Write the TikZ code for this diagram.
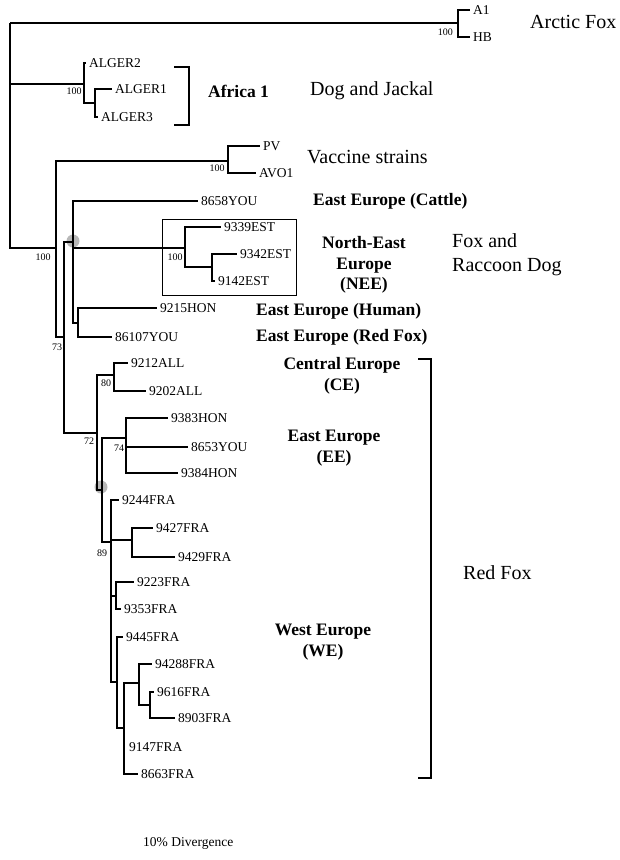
\documentclass[tikz,border=0pt]{standalone}
\usepackage{fontspec}
\setmainfont{Liberation Serif}
\newcommand\LeafSz{\fontsize{13.5}{16}\selectfont}
\newcommand\BootSz{\fontsize{10}{12}\selectfont}
\newcommand\GrpSz{\fontsize{17.5}{20.5}\selectfont\bfseries}
\newcommand\HostSz{\fontsize{20}{24}\selectfont}
\begin{document}
\begin{tikzpicture}[x=1pt,y=-1pt,
  br/.style={line width=1.7pt,line join=miter},
  leaflab/.style={anchor=west,inner sep=0pt,xshift=3pt,font=\LeafSz},
  boot/.style={inner sep=0pt,font=\BootSz},
  grp/.style={inner sep=0pt,align=center,font=\GrpSz},
  host/.style={inner sep=0pt,align=left,font=\HostSz},
  brk/.style={line width=1.3pt},
  hl/.style={fill=black!28,draw=none}]
\useasboundingbox (0,0) rectangle (620,860);

% highlighted nodes
\fill[hl] (73,241) circle (6.5pt);
\fill[hl] (101,487) circle (6.5pt);

% internal nodes
\coordinate (R)  at (10,23);
\coordinate (AN) at (458,23);
\coordinate (AF) at (84,84);
\coordinate (AS) at (95,103);
\coordinate (NA) at (56,248);
\coordinate (V)  at (228,161);
\coordinate (NB) at (64,337);
\coordinate (NC) at (73,242);
\coordinate (N)  at (185,248);
\coordinate (NS) at (212,267);
\coordinate (HR) at (78,323);
\coordinate (ND) at (97,433);
\coordinate (CE) at (114,375);
\coordinate (NE) at (102,490);
\coordinate (EE) at (126,438);
\coordinate (NF) at (111,542);
\coordinate (F1) at (132,540);
\coordinate (F2) at (116,596);
\coordinate (G)  at (117,682);
\coordinate (H)  at (124,728);
\coordinate (I)  at (139,683);
\coordinate (J)  at (150,705);

% leaf tips
\coordinate (tA1) at (470,10);
\coordinate (tHB) at (470,37);
\coordinate (tAL2) at (86,63);
\coordinate (tAL1) at (112,89);
\coordinate (tAL3) at (98,117);
\coordinate (tPV) at (260,146);
\coordinate (tAVO) at (256,173);
\coordinate (t8658) at (198,201);
\coordinate (t9339) at (221,227);
\coordinate (t9342) at (237,254);
\coordinate (t9142) at (215,281);
\coordinate (t9215) at (157,308);
\coordinate (t86107) at (112,337);
\coordinate (t9212) at (128,363);
\coordinate (t9202) at (146,391);
\coordinate (t9383) at (168,418);
\coordinate (t8653) at (188,447);
\coordinate (t9384) at (178,473);
\coordinate (t9244) at (119,500);
\coordinate (t9427) at (153,528);
\coordinate (t9429) at (175,557);
\coordinate (t9223) at (134,582);
\coordinate (t9353) at (121,609);
\coordinate (t9445) at (123,637);
\coordinate (t94288) at (152,664);
\coordinate (t9616) at (154,692);
\coordinate (t8903) at (175,718);
\coordinate (t9147) at (124,747);
\coordinate (t8663) at (138,774);

% branches
\draw[br] (R) |- (AN);
\draw[br] (R) |- (AF);
\draw[br] (R) |- (NA);
\draw[br] (AN) |- (tA1);
\draw[br] (AN) |- (tHB);
\draw[br] (AF) |- (tAL2);
\draw[br] (AF) |- (AS);
\draw[br] (AS) |- (tAL1);
\draw[br] (AS) |- (tAL3);
\draw[br] (NA) |- (V);
\draw[br] (NA) |- (NB);
\draw[br] (V) |- (tPV);
\draw[br] (V) |- (tAVO);
\draw[br] (NB) |- (NC);
\draw[br] (NB) |- (ND);
\draw[br] (NC) |- (t8658);
\draw[br] (NC) |- (N);
\draw[br] (NC) |- (HR);
\draw[br] (N) |- (t9339);
\draw[br] (N) |- (NS);
\draw[br] (NS) |- (t9342);
\draw[br] (NS) |- (t9142);
\draw[br] (HR) |- (t9215);
\draw[br] (HR) |- (t86107);
\draw[br] (ND) |- (CE);
\draw[br] (ND) |- (NE);
\draw[br] (CE) |- (t9212);
\draw[br] (CE) |- (t9202);
\draw[br] (NE) |- (EE);
\draw[br] (NE) |- (NF);
\draw[br] (EE) |- (t9383);
\draw[br] (EE) |- (t8653);
\draw[br] (EE) |- (t9384);
\draw[br] (NF) |- (t9244);
\draw[br] (NF) |- (F1);
\draw[br] (NF) |- (F2);
\draw[br] (NF) |- (G);
\draw[br] (F1) |- (t9427);
\draw[br] (F1) |- (t9429);
\draw[br] (F2) |- (t9223);
\draw[br] (F2) |- (t9353);
\draw[br] (G) |- (t9445);
\draw[br] (G) |- (H);
\draw[br] (H) |- (I);
\draw[br] (H) |- (t9147);
\draw[br] (H) |- (t8663);
\draw[br] (I) |- (t94288);
\draw[br] (I) |- (J);
\draw[br] (J) |- (t9616);
\draw[br] (J) |- (t8903);

% leaf labels
\node[leaflab] (lA1) at (tA1) {A1};
\node[leaflab] (lHB) at (tHB) {HB};
\node[leaflab] (lAL2) at (tAL2) {ALGER2};
\node[leaflab] (lAL1) at (tAL1) {ALGER1};
\node[leaflab] (lAL3) at (tAL3) {ALGER3};
\node[leaflab] (lPV) at (tPV) {PV};
\node[leaflab] (lAVO) at (tAVO) {AVO1};
\node[leaflab] (l8658) at (t8658) {8658YOU};
\node[leaflab] (l9339) at (t9339) {9339EST};
\node[leaflab] (l9342) at (t9342) {9342EST};
\node[leaflab] (l9142) at (t9142) {9142EST};
\node[leaflab] (l9215) at (t9215) {9215HON};
\node[leaflab] (l86107) at (t86107) {86107YOU};
\node[leaflab] (l9212) at (t9212) {9212ALL};
\node[leaflab] (l9202) at (t9202) {9202ALL};
\node[leaflab] (l9383) at (t9383) {9383HON};
\node[leaflab] (l8653) at (t8653) {8653YOU};
\node[leaflab] (l9384) at (t9384) {9384HON};
\node[leaflab] (l9244) at (t9244) {9244FRA};
\node[leaflab] (l9427) at (t9427) {9427FRA};
\node[leaflab] (l9429) at (t9429) {9429FRA};
\node[leaflab] (l9223) at (t9223) {9223FRA};
\node[leaflab] (l9353) at (t9353) {9353FRA};
\node[leaflab] (l9445) at (t9445) {9445FRA};
\node[leaflab] (l94288) at (t94288) {94288FRA};
\node[leaflab] (l9616) at (t9616) {9616FRA};
\node[leaflab] (l8903) at (t8903) {8903FRA};
\node[leaflab,xshift=2pt] (l9147) at (t9147) {9147FRA};
\node[leaflab] (l8663) at (t8663) {8663FRA};

% bootstrap values
\node[boot,anchor=east] (bAN) at (453,32) {100};
\node[boot] (bAF) at (74,91) {100};
\node[boot] (bV) at (217,168) {100};
\node[boot] (bR) at (43,257) {100};
\node[boot] (bN) at (175,257) {100};
\node[boot] (bNB) at (57,347) {73};
\node[boot] (bND) at (89,441) {72};
\node[boot] (bCE) at (106,383) {80};
\node[boot] (bEE) at (119,448) {74};
\node[boot] (bNE) at (102,553) {89};

% boxes and brackets
\draw[line width=0.8pt] (162,219) rectangle (296,295);
\draw[brk] (174,67) -- (189,67) -- (189,125) -- (174,125);
\draw[brk] (418,359) -- (431,359) -- (431,778) -- (418,778);

% group labels
\node[host,anchor=west] (hArc) at (530,22) {Arctic Fox};
\node[grp,anchor=west] (gAf) at (208,91) {Africa 1};
\node[host,anchor=west] (hDog) at (310,91) {Dog and Jackal};
\node[host,anchor=west] (hVac) at (307,157) {Vaccine strains};
\node[grp,anchor=west] (gCat) at (313,201) {East Europe (Cattle)};
\node[grp] (gNEE) at (364,265) {North-East\\Europe\\(NEE)};
\node[host,anchor=west] (hFox) at (452,255) {Fox and\\Raccoon Dog};
\node[grp,anchor=west] (gHum) at (256,311) {East Europe (Human)};
\node[grp,anchor=west] (gRed) at (256,337) {East Europe (Red Fox)};
\node[grp] (gCE) at (342,376) {Central Europe\\(CE)};
\node[grp] (gEE) at (334,448) {East Europe\\(EE)};
\node[grp] (gWE) at (323,642) {West Europe\\(WE)};
\node[host,anchor=west] (hRed) at (463,573) {Red Fox};
\node[inner sep=0pt,anchor=west,font=\LeafSz] (scale) at (143,843) {10\% Divergence};
\end{tikzpicture}
\end{document}
